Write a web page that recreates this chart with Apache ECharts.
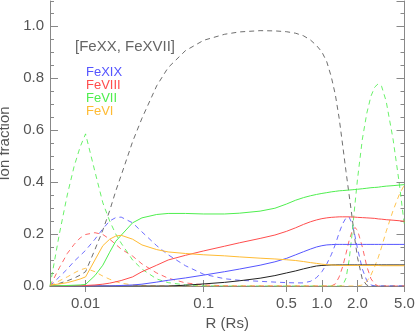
<!DOCTYPE html>
<html>
<head>
<meta charset="UTF-8">
<title>Ion fraction</title>
<script src="https://cdn.jsdelivr.net/npm/echarts@6/dist/echarts.min.js"></script>
<style>html,body{margin:0;padding:0;background:#fff}</style>
</head>
<body>
<div id="chart" style="width:415px;height:332px;"></div>
<script>
// R in solar radii (shared grid for all curves)
var radius = [0.005, 0.006, 0.007, 0.008, 0.009, 0.01, 0.012, 0.014, 0.016, 0.018, 0.02, 0.025, 0.03, 0.04, 0.05, 0.07,
    0.1, 0.15, 0.2, 0.3, 0.4, 0.5, 0.6, 0.7, 0.8, 0.9, 1.0, 1.1, 1.2, 1.3, 1.4, 1.5, 1.6, 1.7, 1.8, 1.9,
    2.0, 2.2, 2.4, 2.6, 2.8, 3.0, 3.2, 3.5, 4.0, 4.5, 5.0];

// solid curves
var feXXSolid = [0, 0, 0, 0, 0, 0, 0, 0, 0, 0, 0, 0, 0, 0, 0, 0.003,
    0.008, 0.014, 0.02, 0.03, 0.04, 0.05, 0.058, 0.066, 0.072, 0.077, 0.079, 0.08, 0.081, 0.081, 0.081, 0.081, 0.081, 0.081, 0.081, 0.081,
    0.081, 0.081, 0.081, 0.081, 0.081, 0.081, 0.081, 0.081, 0.081, 0.081, 0.081];
var feXIXSolid = [0, 0, 0, 0, 0, 0, 0, 0, 0, 0.001, 0.002, 0.004, 0.007, 0.015, 0.022, 0.031,
    0.042, 0.055, 0.065, 0.08, 0.093, 0.106, 0.12, 0.132, 0.142, 0.15, 0.155, 0.158, 0.159, 0.16, 0.16, 0.16, 0.16, 0.16, 0.16, 0.16,
    0.16, 0.16, 0.16, 0.16, 0.16, 0.16, 0.16, 0.16, 0.16, 0.16, 0.16];
var feVIIISolid = [0, 0, 0, 0.001, 0.001, 0.002, 0.004, 0.007, 0.011, 0.016, 0.021, 0.035, 0.055, 0.08, 0.1, 0.118,
    0.135, 0.153, 0.166, 0.183, 0.196, 0.21, 0.224, 0.237, 0.247, 0.254, 0.259, 0.262, 0.264, 0.265, 0.266, 0.266, 0.266, 0.266, 0.265, 0.265,
    0.264, 0.263, 0.262, 0.261, 0.26, 0.258, 0.257, 0.255, 0.253, 0.251, 0.249];
var feVIISolid = [0, 0.001, 0.002, 0.003, 0.004, 0.006, 0.04, 0.08, 0.13, 0.172, 0.195, 0.243, 0.262, 0.275, 0.279, 0.279,
    0.277, 0.277, 0.28, 0.288, 0.299, 0.315, 0.33, 0.34, 0.347, 0.352, 0.356, 0.359, 0.362, 0.364, 0.366, 0.367, 0.368, 0.369, 0.37, 0.371,
    0.372, 0.374, 0.376, 0.378, 0.379, 0.38, 0.382, 0.384, 0.386, 0.388, 0.39];
var feVISolid = [0.003, 0.008, 0.013, 0.02, 0.027, 0.035, 0.1, 0.155, 0.18, 0.192, 0.195, 0.18, 0.158, 0.14, 0.131, 0.125,
    0.12, 0.116, 0.112, 0.107, 0.104, 0.101, 0.098, 0.094, 0.09, 0.087, 0.084, 0.082, 0.081, 0.08, 0.079, 0.079, 0.079, 0.079, 0.079, 0.079,
    0.079, 0.079, 0.079, 0.079, 0.079, 0.079, 0.078, 0.078, 0.078, 0.078, 0.078];

// dashed curves
var feXVIIDashed = [0, 0.01, 0.02, 0.03, 0.042, 0.055, 0.14, 0.215, 0.29, 0.365, 0.425, 0.555, 0.645, 0.77, 0.84, 0.905,
    0.945, 0.968, 0.977, 0.982, 0.981, 0.978, 0.972, 0.962, 0.946, 0.925, 0.9, 0.862, 0.805, 0.735, 0.645, 0.54, 0.44, 0.35, 0.265, 0.18,
    0.11, 0.025, 0.003, 0, 0, 0, 0, 0, 0, 0, 0];
var feXIXDashed = [0, 0.035, 0.065, 0.095, 0.117, 0.137, 0.18, 0.22, 0.25, 0.263, 0.265, 0.243, 0.208, 0.155, 0.12, 0.078,
    0.045, 0.028, 0.022, 0.018, 0.015, 0.013, 0.012, 0.012, 0.018, 0.032, 0.055, 0.085, 0.12, 0.16, 0.205, 0.24, 0.262, 0.265, 0.24, 0.195,
    0.145, 0.065, 0.02, 0.004, 0, 0, 0, 0, 0, 0, 0];
var feVIIIDashed = [0, 0.07, 0.125, 0.16, 0.185, 0.198, 0.205, 0.198, 0.18, 0.16, 0.142, 0.115, 0.085, 0.05, 0.03, 0.012,
    0.004, 0.001, 0, 0, 0, 0, 0, 0, 0, 0, 0, 0, 0, 0.008, 0.035, 0.075, 0.125, 0.175, 0.21, 0.225,
    0.215, 0.15, 0.075, 0.028, 0.007, 0, 0, 0, 0, 0, 0];
var feVIIDashed = [0, 0.2, 0.35, 0.46, 0.535, 0.585, 0.44, 0.32, 0.25, 0.2, 0.165, 0.1, 0.065, 0.027, 0.013, 0.004,
    0.001, 0, 0, 0, 0, 0, 0, 0, 0, 0, 0, 0, 0, 0, 0, 0.003, 0.03, 0.1, 0.2, 0.31,
    0.41, 0.565, 0.665, 0.73, 0.765, 0.778, 0.768, 0.71, 0.565, 0.4, 0.23];
var feVIDashed = [0, 0.02, 0.035, 0.05, 0.062, 0.068, 0.055, 0.038, 0.026, 0.017, 0.011, 0.004, 0.001, 0, 0, 0,
    0, 0, 0, 0, 0, 0, 0, 0, 0, 0, 0, 0, 0, 0, 0, 0, 0, 0, 0, 0,
    0, 0.004, 0.018, 0.042, 0.075, 0.11, 0.15, 0.21, 0.29, 0.35, 0.39];

var xTickValues = [0.01, 0.1, 0.5, 1, 2, 5];
var xTickLabels = ['0.01', '0.1', '0.5', '1.0', '2.0', '5.0'];

var cBlack = '#222', cGray = '#555', cBlue = '#5555ff', cRed = '#ff4d4d', cGreen = '#4fee4f', cOrange = '#ffbb33';
var font = 'Liberation Sans';

let chart = echarts.init(document.getElementById('chart'));

function line(name, values, color, dashed) {
    return {
        type: 'line',
        name: name,
        data: radius.map(function (r, i) { return [r, values[i]]; }),
        showSymbol: false,
        animation: false,
        z: dashed ? 2 : 3,
        lineStyle: { color: color, width: 1, type: dashed ? [5, 4] : 'solid', opacity: dashed ? 0.85 : 1 }
    };
}

function xLabel(v) {
    for (var i = 0; i < xTickValues.length; i++) {
        if (Math.abs(v / xTickValues[i] - 1) < 1e-6) return xTickLabels[i];
    }
    return '';
}

var axisGray = '#888';
var baseX = {
    type: 'log', logBase: 10, min: 0.005, max: 5,
    axisLine: { lineStyle: { color: axisGray } },
    splitLine: { show: false }, minorTick: { show: false }, minorSplitLine: { show: false }
};
var baseY = {
    type: 'value', min: 0, max: 1.096,
    splitLine: { show: false }
};

option = {
    backgroundColor: '#fff',
    grid: { left: 50, right: 10.5, top: 1, bottom: 46, containLabel: false, outerBoundsMode: 'none' },
    xAxis: [
        Object.assign({}, baseX, {
            position: 'bottom',
            name: 'R (Rs)', nameLocation: 'middle', nameGap: 29,
            nameTextStyle: { color: '#555', fontFamily: font, fontSize: 15 },
            axisTick: { inside: true, length: 6, customValues: xTickValues, lineStyle: { color: axisGray } },
            axisLabel: { customValues: xTickValues, formatter: xLabel, margin: 10, color: '#555', fontFamily: font, fontSize: 15 }
        }),
        Object.assign({}, baseX, {
            position: 'top',
            axisTick: { inside: true, length: 6, customValues: xTickValues, lineStyle: { color: axisGray } },
            axisLabel: { show: false }
        })
    ],
    yAxis: [
        Object.assign({}, baseY, {
            position: 'left', interval: 0.2,
            name: 'Ion fraction', nameLocation: 'middle', nameGap: 34,
            nameTextStyle: { color: '#555', fontFamily: font, fontSize: 15 },
            axisLine: { show: true, lineStyle: { color: axisGray } },
            axisTick: { inside: true, length: 8, lineStyle: { color: axisGray } },
            axisLabel: { showMaxLabel: false, margin: 6, color: '#555', fontFamily: font, fontSize: 15,
                formatter: function (v) { return v.toFixed(1); } }
        }),
        Object.assign({}, baseY, {
            position: 'left', offset: 0, interval: 0.05,
            axisLine: { show: false },
            axisTick: { inside: true, length: 4, lineStyle: { color: axisGray } },
            axisLabel: { show: false }
        }),
        Object.assign({}, baseY, {
            position: 'right', offset: 0, interval: 0.2,
            axisLine: { show: true, lineStyle: { color: axisGray } },
            axisTick: { inside: true, length: 8, lineStyle: { color: axisGray } },
            axisLabel: { show: false }
        }),
        Object.assign({}, baseY, {
            position: 'right', offset: 0, interval: 0.05,
            axisLine: { show: false },
            axisTick: { inside: true, length: 4, lineStyle: { color: axisGray } },
            axisLabel: { show: false }
        })
    ],
    graphic: [
        { type: 'text', left: 75, top: 39, style: { text: '[FeXX, FeXVII]', fill: '#666', font: '15px "Liberation Sans"' } },
        { type: 'text', left: 86, top: 66, style: { text: 'FeXIX', fill: cBlue, font: '13px "Liberation Sans"' } },
        { type: 'text', left: 86, top: 79, style: { text: 'FeVIII', fill: cRed, font: '13px "Liberation Sans"' } },
        { type: 'text', left: 86, top: 92, style: { text: 'FeVII', fill: cGreen, font: '13px "Liberation Sans"' } },
        { type: 'text', left: 86, top: 105, style: { text: 'FeVI', fill: cOrange, font: '13px "Liberation Sans"' } }
    ],
    series: [
        line('FeXVII dashed', feXVIIDashed, cGray, true),
        line('FeXIX dashed', feXIXDashed, cBlue, true),
        line('FeVIII dashed', feVIIIDashed, cRed, true),
        line('FeVII dashed', feVIIDashed, cGreen, true),
        line('FeVI dashed', feVIDashed, cOrange, true),
        line('FeXX', feXXSolid, cBlack, false),
        line('FeXIX', feXIXSolid, cBlue, false),
        line('FeVIII', feVIIISolid, cRed, false),
        line('FeVII', feVIISolid, cGreen, false),
        line('FeVI', feVISolid, cOrange, false)
    ]
};
chart.setOption(option);
</script>
</body>
</html>
